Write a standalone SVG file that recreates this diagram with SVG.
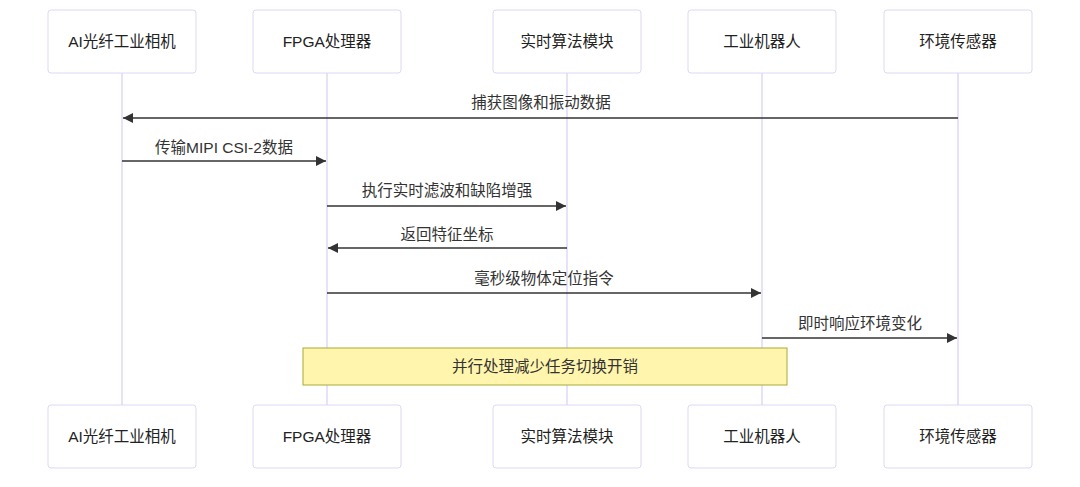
<svg xmlns="http://www.w3.org/2000/svg" width="1080" height="487" viewBox="0 0 1080 487">
<style>
.actor{fill:#ffffff;stroke:#e1d7f5;stroke-width:1}
.life{stroke:#e1d7f5;stroke-width:1.5}
.lbl{font-family:"Liberation Sans","Noto Sans CJK SC",sans-serif;font-size:15.5px;fill:#222;text-anchor:middle;dominant-baseline:central}
.msg{stroke:#333;stroke-width:1.5;fill:none}
.mt{font-family:"Liberation Sans","Noto Sans CJK SC",sans-serif;font-size:15.5px;fill:#333;text-anchor:middle;dominant-baseline:central}
.note{fill:#fff5ad;stroke:#aaaa33;stroke-width:1}
</style>
<defs>
<marker id="ah" viewBox="0 0 10 10" refX="10" refY="5" markerWidth="10" markerHeight="10" markerUnits="userSpaceOnUse" orient="auto">
<path d="M0,0 L10,5 L0,10 z" fill="#333"/>
</marker>
</defs>
<g id="lifelines">
<line class="life" x1="122" y1="73" x2="122" y2="405"/>
<line class="life" x1="327" y1="73" x2="327" y2="405"/>
<line class="life" x1="567" y1="73" x2="567" y2="405"/>
<line class="life" x1="762" y1="73" x2="762" y2="405"/>
<line class="life" x1="958" y1="73" x2="958" y2="405"/>
</g>
<g id="camera">
<rect class="actor" x="48" y="10" width="148" height="63" rx="3"/>
<text class="lbl" x="122" y="41.5">AI光纤工业相机</text>
<rect class="actor" x="48" y="405" width="148" height="63" rx="3"/>
<text class="lbl" x="122" y="436.5">AI光纤工业相机</text>
</g>
<g id="fpga">
<rect class="actor" x="253" y="10" width="148" height="63" rx="3"/>
<text class="lbl" x="327" y="41.5">FPGA处理器</text>
<rect class="actor" x="253" y="405" width="148" height="63" rx="3"/>
<text class="lbl" x="327" y="436.5">FPGA处理器</text>
</g>
<g id="algo">
<rect class="actor" x="493" y="10" width="148" height="63" rx="3"/>
<text class="lbl" x="567" y="41.5">实时算法模块</text>
<rect class="actor" x="493" y="405" width="148" height="63" rx="3"/>
<text class="lbl" x="567" y="436.5">实时算法模块</text>
</g>
<g id="robot">
<rect class="actor" x="688" y="10" width="148" height="63" rx="3"/>
<text class="lbl" x="762" y="41.5">工业机器人</text>
<rect class="actor" x="688" y="405" width="148" height="63" rx="3"/>
<text class="lbl" x="762" y="436.5">工业机器人</text>
</g>
<g id="sensor">
<rect class="actor" x="884" y="10" width="148" height="63" rx="3"/>
<text class="lbl" x="958" y="41.5">环境传感器</text>
<rect class="actor" x="884" y="405" width="148" height="63" rx="3"/>
<text class="lbl" x="958" y="436.5">环境传感器</text>
</g>
<g id="connectors">
<line class="msg" x1="958" y1="118" x2="123" y2="118" marker-end="url(#ah)"/>
<text class="mt" x="541" y="102">捕获图像和振动数据</text>
<line class="msg" x1="122" y1="161" x2="326" y2="161" marker-end="url(#ah)"/>
<text class="mt" x="224" y="147">传输MIPI CSI-2数据</text>
<line class="msg" x1="327" y1="206" x2="566" y2="206" marker-end="url(#ah)"/>
<text class="mt" x="447" y="190">执行实时滤波和缺陷增强</text>
<line class="msg" x1="567" y1="248" x2="328" y2="248" marker-end="url(#ah)"/>
<text class="mt" x="447" y="234">返回特征坐标</text>
<line class="msg" x1="327" y1="293" x2="761" y2="293" marker-end="url(#ah)"/>
<text class="mt" x="544" y="278">毫秒级物体定位指令</text>
<line class="msg" x1="762" y1="338" x2="957" y2="338" marker-end="url(#ah)"/>
<text class="mt" x="860" y="323">即时响应环境变化</text>
</g>
<g id="note">
<rect class="note" x="303" y="348" width="484" height="37"/>
<text class="mt" x="545" y="366.5">并行处理减少任务切换开销</text>
</g>
</svg>
